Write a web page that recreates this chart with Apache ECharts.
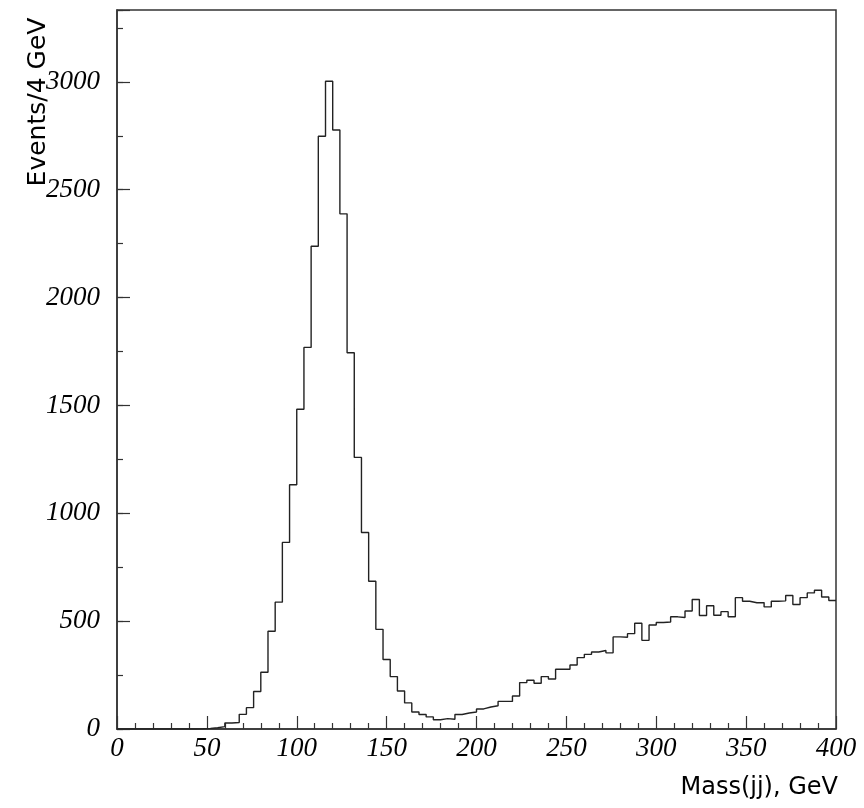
<!DOCTYPE html>
<html>
<head>
<meta charset="utf-8">
<script src="https://cdn.jsdelivr.net/npm/echarts@6/dist/echarts.min.js"></script>
<style>
html,body{margin:0;padding:0;background:#fff;}
#mass_jj{width:864px;height:808px;}
</style>
</head>
<body>
<div id="mass_jj"></div>
<script>
//bins: 4 GeV wide, 0 - 400 GeV
var binWidth = 4;
var xTicks = [0, 50, 100, 150, 200, 250, 300, 350, 400];
var yTicks = [0, 500, 1000, 1500, 2000, 2500, 3000];
//events per bin
var events = [
	0, 0, 0, 0, 0, 0, 0, 0, 0, 0,
	0, 1, 3, 6, 11, 28, 30, 68, 99, 174,
	263, 453, 588, 865, 1132, 1482, 1769, 2238, 2748, 3003,
	2777, 2388, 1744, 1259, 911, 685, 462, 322, 243, 176,
	121, 79, 67, 56, 43, 48, 45, 67, 74, 79,
	93, 102, 108, 128, 128, 153, 215, 226, 212, 243,
	232, 277, 277, 297, 331, 346, 357, 364, 353, 427,
	425, 442, 490, 411, 482, 494, 496, 520, 517, 547,
	600, 526, 571, 527, 544, 520, 609, 592, 585, 586,
	566, 592, 594, 619, 577, 609, 631, 643, 612, 596
];

//histogram outline: one point per bin low edge, plus the last edge
var histData = events.map(function(v, i){ return [i * binWidth, v]; });
histData.push([events.length * binWidth, events[events.length - 1]]);

var tickFont = {
	color: '#000',
	fontFamily: 'Liberation Serif',
	fontStyle: 'italic',
	fontSize: 27
};
var lineColor = '#333';

var chart = echarts.init(document.getElementById('mass_jj'));
var option = {
	backgroundColor: '#fff',
	animation: false,
	grid: {
		left: 117,
		right: 28,
		top: 10,
		bottom: 79,
		show: true,
		borderColor: lineColor,
		borderWidth: 1.5,
		backgroundColor: 'transparent'
	},
	xAxis: [{
		type: 'value',
		min: xTicks[0],
		max: xTicks[xTicks.length - 1],
		interval: 50,
		axisLine: {show: true, lineStyle: {color: lineColor, width: 1.5}},
		axisTick: {show: true, inside: true, length: 13, lineStyle: {color: lineColor, width: 1.2}},
		minorTick: {show: true, splitNumber: 5, length: 6, lineStyle: {color: lineColor, width: 1.2}},
		splitLine: {show: false},
		axisLabel: Object.assign({margin: 6, showMinLabel: true, showMaxLabel: true}, tickFont)
	}],
	yAxis: [{
		type: 'value',
		min: 0,
		max: 3333,
		interval: 250,
		axisLine: {show: true, lineStyle: {color: lineColor, width: 1.5}},
		axisTick: {show: true, inside: true, length: 6, lineStyle: {color: lineColor, width: 1.2}},
		splitLine: {show: false},
		axisLabel: Object.assign({
			margin: 17,
			formatter: function(v){ return yTicks.indexOf(v) >= 0 ? String(v) : ''; }
		}, tickFont)
	}, {
		type: 'value',
		position: 'left',
		min: 0,
		max: 3333,
		interval: 500,
		axisLine: {show: false},
		axisTick: {show: true, inside: true, length: 13, lineStyle: {color: lineColor, width: 1.2}},
		splitLine: {show: false},
		axisLabel: {show: false}
	}],
	graphic: [{
		type: 'text',
		x: 38,
		y: 102,
		rotation: Math.PI / 2,
		style: {
			text: 'Events/4 GeV',
			fill: '#000',
			font: '25px "DejaVu Sans"',
			textAlign: 'center',
			textVerticalAlign: 'middle'
		}
	}, {
		type: 'text',
		x: 838,
		y: 800,
		style: {
			text: 'Mass(jj), GeV',
			fill: '#000',
			font: '24px "DejaVu Sans"',
			textAlign: 'right',
			textVerticalAlign: 'bottom'
		}
	}],
	series: [{
		name: 'Mass(jj)',
		type: 'line',
		step: 'end',
		symbol: 'none',
		xAxisIndex: 0,
		yAxisIndex: 0,
		lineStyle: {color: '#222', width: 1.4},
		data: histData
	}]
};
chart.setOption(option);
</script>
</body>
</html>
